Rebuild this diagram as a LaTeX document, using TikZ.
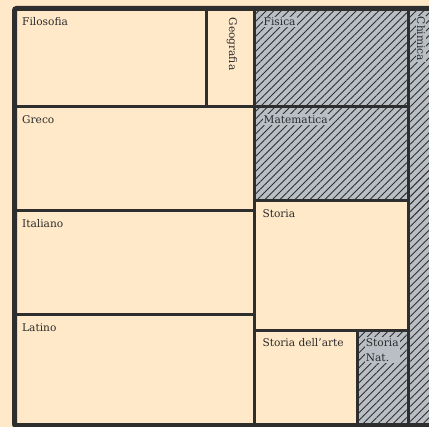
\documentclass[tikz,border=0pt]{standalone}
\usepackage{fontspec}
\setmainfont{DejaVu Serif}
\usepackage{tikz}
\usetikzlibrary{patterns.meta, positioning}

\definecolor{paper}{HTML}{FFE9C9}
\definecolor{frame}{HTML}{2E2E2E}
\definecolor{ink}{HTML}{2A2A2A}
\definecolor{steel}{HTML}{B9BFC5}

\begin{document}
\begin{tikzpicture}[
  x=1pt, y=-1pt,
  cell/.style={draw=frame, line width=3pt, fill=paper, outer sep=0pt, inner sep=0pt, anchor=north west},
  hatched/.style={cell, preaction={fill=steel}, pattern={Lines[angle=45,distance=5.3pt,line width=0.9pt]}, pattern color=frame},
  lbl/.style={anchor=base west, inner sep=0pt, text=ink, align=left, font=\fontsize{10.6}{15.6}\selectfont},
  glbl/.style={lbl, fill=steel, inner sep=1.2pt},
  vlbl/.style={lbl, anchor=north west, rotate=-90}
]
\useasboundingbox (0,0) rectangle (429,427);
\fill[paper] (0,0) rectangle (429,427);

% left block
\node[cell, minimum width=191.5pt, minimum height=98.5pt] (filosofia) at (14.5,8.5) {};
\node[cell, minimum width=48pt, minimum height=98.5pt] (geografia) at (206,8.5) {};
\node[cell, minimum width=239.5pt, minimum height=104pt] (greco) at (14.5,107) {};
\node[cell, minimum width=239.5pt, minimum height=104pt] (italiano) at (14.5,211) {};
\node[cell, minimum width=239.5pt, minimum height=110pt] (latino) at (14.5,315) {};

% right block
\node[hatched, minimum width=154pt, minimum height=98.5pt] (fisica) at (254,8.5) {};
\node[hatched, minimum width=154pt, minimum height=94pt] (matematica) at (254,107) {};
\node[cell, minimum width=154pt, minimum height=130pt] (storia) at (254,201) {};
\node[cell, minimum width=103pt, minimum height=94pt] (arte) at (254,331) {};
\node[hatched, minimum width=51pt, minimum height=94pt] (natura) at (357,331) {};
\node[hatched, minimum width=38pt, minimum height=416.5pt] (chimica) at (408,8.5) {};

% outer frame
\draw[frame, line width=5pt, rounded corners=2pt] (14.5,8.5) rectangle (446,426);

% labels
\node[lbl] (filosofia-t) at ([xshift=7.5pt,yshift=-17.5pt]filosofia.north west) {Filosofia};
\node[lbl] (greco-t) at ([xshift=7.5pt,yshift=-16.3pt]greco.north west) {Greco};
\node[lbl] (italiano-t) at ([xshift=7.5pt,yshift=-16.5pt]italiano.north west) {Italiano};
\node[lbl] (latino-t) at ([xshift=7.5pt,yshift=-16.3pt]latino.north west) {Latino};
\node[glbl] (fisica-t) at ([xshift=8.3pt,yshift=-17.5pt]fisica.north west) {Fisica};
\node[glbl] (matematica-t) at ([xshift=8.3pt,yshift=-16.3pt]matematica.north west) {Matematica};
\node[lbl] (storia-t) at ([xshift=8.3pt,yshift=-16.3pt]storia.north west) {Storia};
\node[lbl] (arte-t) at ([xshift=8.3pt,yshift=-15.7pt]arte.north west) {Storia dell’arte};
\node[glbl, anchor=north west] (natura-t) at ([xshift=7.5pt,yshift=-6pt]natura.north west) {Storia\\Nat.};
\node[vlbl] (geografia-t) at (237.5,17.5) {Geografia};
\node[vlbl, glbl, anchor=north west] (chimica-t) at (426.5,15.5) {Chimica};
\end{tikzpicture}
\end{document}
